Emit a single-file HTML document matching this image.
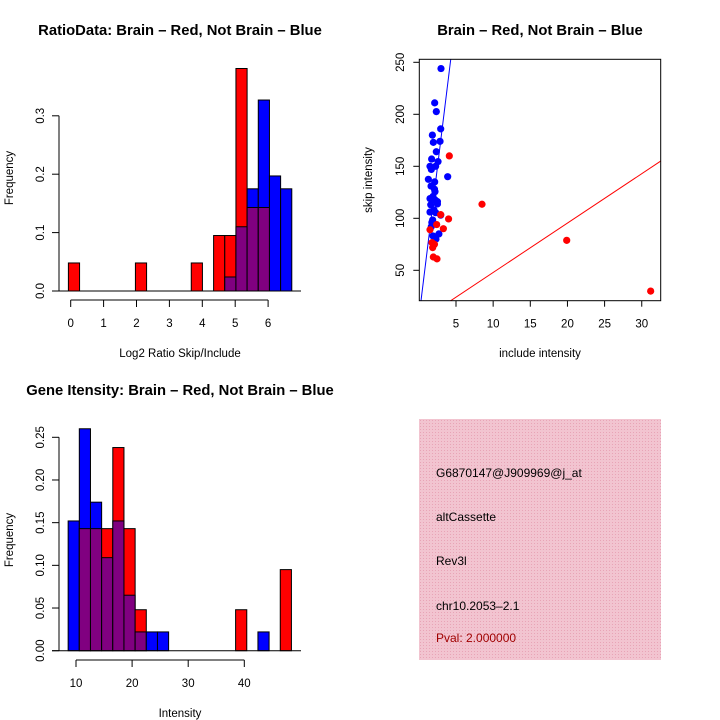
<!DOCTYPE html>
<html><head><meta charset="utf-8"><style>
html,body{margin:0;padding:0;background:#fff;}
svg{display:block;font-family:"Liberation Sans",sans-serif;}
</style></head><body>
<svg id="s" width="720" height="720" viewBox="0 0 720 720">
<rect width="720" height="720" fill="#fff"/>
<defs>
<pattern id="hatch" width="3" height="3" patternUnits="userSpaceOnUse">
<rect width="3" height="3" fill="#f2c4d0"/><rect width="1" height="1" fill="#e8a4b6"/>
</pattern>
</defs>
<text x="180" y="35" text-anchor="middle" font-size="14.8" font-weight="bold">RatioData: Brain – Red, Not Brain – Blue</text>
<text x="540" y="35" text-anchor="middle" font-size="14.8" font-weight="bold">Brain – Red, Not Brain – Blue</text>
<text x="180" y="395" text-anchor="middle" font-size="14.8" font-weight="bold">Gene Itensity: Brain – Red, Not Brain – Blue</text>
<text x="180" y="357" text-anchor="middle" font-size="11.5">Log2 Ratio Skip/Include</text>
<text transform="translate(13,178) rotate(-90)" text-anchor="middle" font-size="11.5">Frequency</text>
<text x="540" y="357" text-anchor="middle" font-size="11.5">include intensity</text>
<text transform="translate(372,180) rotate(-90)" text-anchor="middle" font-size="11.5">skip intensity</text>
<text x="180" y="717" text-anchor="middle" font-size="11.5">Intensity</text>
<text transform="translate(13,540) rotate(-90)" text-anchor="middle" font-size="11.5">Frequency</text>
<g>
<rect x="419" y="419" width="242" height="241" fill="url(#hatch)"/>
<text x="436" y="477" font-size="12">G6870147@J909969@j_at</text>
<text x="436" y="521" font-size="12">altCassette</text>
<text x="436" y="565" font-size="12">Rev3l</text>
<text x="436" y="610" font-size="12">chr10.2053–2.1</text>
<text x="436" y="642" font-size="12" fill="#a00000">Pval: 2.000000</text>
</g>
<g id="p1"></g><g id="p2"></g><g id="p3"></g>
</svg>
<script>
// Histogram 1 data
const ratioRed = [0.048,0,0,0,0,0,0.048,0,0,0,0,0.048,0,0.095,0.095,0.381,0.143,0.143,0,0];
const ratioBlue = [0,0,0,0,0,0,0,0,0,0,0,0,0,0,0.024,0.11,0.175,0.327,0.197,0.175];
const ratioTicksX = [0,1,2,3,4,5,6];
const ratioTicksY = ["0.0","0.1","0.2","0.3"];
// Histogram 2 data
const intRed = [0,0.143,0.143,0.143,0.238,0.143,0.048,0,0,0,0,0,0,0,0,0.048,0,0,0,0.095];
const intBlue = [0.152,0.26,0.174,0.109,0.152,0.065,0.022,0.022,0.022,0,0,0,0,0,0,0,0,0.022,0,0];
const intTicksX = [10,20,30,40];
const intTicksY = ["0.00","0.05","0.10","0.15","0.20","0.25"];
// Scatter data
const blueX = [2.98,2.13,2.35,2.94,1.82,1.95,2.85,2.35,1.72,2.58,1.5,2.26,1.68,3.88,1.28,2.13,1.64,2.17,1.5,2.2,2.5,1.6,2.5,1.5,2.26,2.94,1.86,1.68,2.7,2.3,1.9,2.04,1.9,2.1,1.75];
const blueY = [244,211,202.6,186,180,173,174,164,157,154.5,150,150,147,140,137.5,135,131,125.6,119,117.6,116,113,113.8,106,105.4,103,98.4,92,85,80,83,108,121,128,96];
const redX = [4.1,8.5,4.0,3.3,2.4,1.5,1.77,1.86,2.1,1.95,2.44,19.9,31.2,2.94];
const redY = [160,113.5,99.4,90,94,89,76.6,71.8,75,62.8,61,78.8,30,103.5];
const scatterTicksX = [5,10,15,20,25,30];
const scatterTicksY = [50,100,150,200,250];
const blueFit = [4,58];
const redFit = [0.4,4.75];

const NS="http://www.w3.org/2000/svg";
function mk(p,tag,attrs){const e=document.createElementNS(NS,tag);for(const k in attrs)e.setAttribute(k,attrs[k]);p.appendChild(e);return e;}

function hist(g,red,blue,start,bw,sx,sy,base,ticksX,ticksY,yStep,xLineY){
  for(let i=0;i<red.length;i++){
    const x0=sx(start+i*bw), x1=sx(start+(i+1)*bw);
    const r=red[i], b=blue[i];
    const hi=Math.max(r,b), lo=Math.min(r,b);
    if(hi>0){
      const e=mk(g,'rect',{x:x0,y:sy(hi),width:x1-x0,height:sy(0)-sy(hi),fill:r>=b?'#ff0000':'#0000ff',stroke:'#000','stroke-width':1});
      
      
    }
    if(lo>0){
      const e=mk(g,'rect',{x:x0,y:sy(lo),width:x1-x0,height:sy(0)-sy(lo),fill:'#800080',stroke:'#000','stroke-width':1});
      
      
    }
  }
  mk(g,'line',{x1:52,x2:301,y1:sy(0),y2:sy(0),stroke:'#000'});
  const ya=mk(g,'g',{});
  
  
  const yv=ticksY.map((t,i)=>i*yStep);
  mk(ya,'line',{x1:59,x2:59,y1:sy(0),y2:sy(yv[yv.length-1]),stroke:'#000'});
  ticksY.forEach((t,i)=>{
    const y=sy(yv[i]);
    mk(ya,'line',{x1:52,x2:59,y1:y,y2:y,stroke:'#000'});
    const tx=mk(ya,'text',{transform:`translate(44,${y}) rotate(-90)`,'text-anchor':'middle','font-size':11.5});
    tx.textContent=t;
  });
  const xa=mk(g,'g',{});
  
  
  mk(xa,'line',{x1:sx(ticksX[0]),x2:sx(ticksX[ticksX.length-1]),y1:xLineY,y2:xLineY,stroke:'#000'});
  ticksX.forEach(t=>{
    const x=sx(t);
    mk(xa,'line',{x1:x,x2:x,y1:xLineY,y2:xLineY+7,stroke:'#000'});
    const tx=mk(xa,'text',{x:x,y:xLineY+27,'text-anchor':'middle','font-size':11.5});
    tx.textContent=t;
  });
}
(function(){
  const g=document.getElementById('p1');
  const sx=v=>70.7+v*32.9, sy=v=>291-v*584;
  hist(g,ratioRed,ratioBlue,-0.07,0.3395,sx,sy,291,ratioTicksX,ratioTicksY,0.1,300);
})();
(function(){
  const g=document.getElementById('p3');
  const sx=v=>76+(v-10)*5.61, sy=v=>650.7-v*853.6;
  hist(g,intRed,intBlue,8.6,1.99,sx,sy,650.7,intTicksX,intTicksY,0.05,660);
})();
(function(){
  const g=document.getElementById('p2');
  const L=419.3,R=660.7,T=59.3,B=300.7;
  const sx=v=>456+(v-5)*7.43, sy=v=>270.3-(v-50)*1.04;
  const cp=mk(g,'clipPath',{id:'cp'});mk(cp,'rect',{x:L,y:T,width:R-L,height:B-T});
  const lg=mk(g,'g',{'clip-path':'url(#cp)'});
  const fl=(f,c,n)=>{const xa=-1,xb=40;const e=mk(lg,'line',{x1:sx(xa),y1:sy(f[0]+f[1]*xa),x2:sx(xb),y2:sy(f[0]+f[1]*xb),stroke:c,'stroke-width':1});
    };
  fl(blueFit,'#0000ff','blue-fit-line');
  fl(redFit,'#ff0000','red-fit-line');
  blueX.forEach((x,i)=>{const c=mk(g,'circle',{cx:sx(x),cy:sy(blueY[i]),r:3.6,fill:'#0000ff'});
    });
  redX.forEach((x,i)=>{const c=mk(g,'circle',{cx:sx(x),cy:sy(redY[i]),r:3.6,fill:'#ff0000'});
    });
  const bx=mk(g,'rect',{x:L,y:T,width:R-L,height:B-T,fill:'none',stroke:'#000'});
  
  scatterTicksX.forEach(t=>{const x=sx(t);mk(g,'line',{x1:x,x2:x,y1:B,y2:B+6,stroke:'#000'});
    const tx=mk(g,'text',{x:x,y:B+27,'text-anchor':'middle','font-size':11.5});tx.textContent=t;});
  scatterTicksY.forEach(t=>{const y=sy(t);mk(g,'line',{x1:L-6,x2:L,y1:y,y2:y,stroke:'#000'});
    const tx=mk(g,'text',{transform:`translate(404,${y}) rotate(-90)`,'text-anchor':'middle','font-size':11.5});tx.textContent=t;});
})();
</script>
</body></html>
